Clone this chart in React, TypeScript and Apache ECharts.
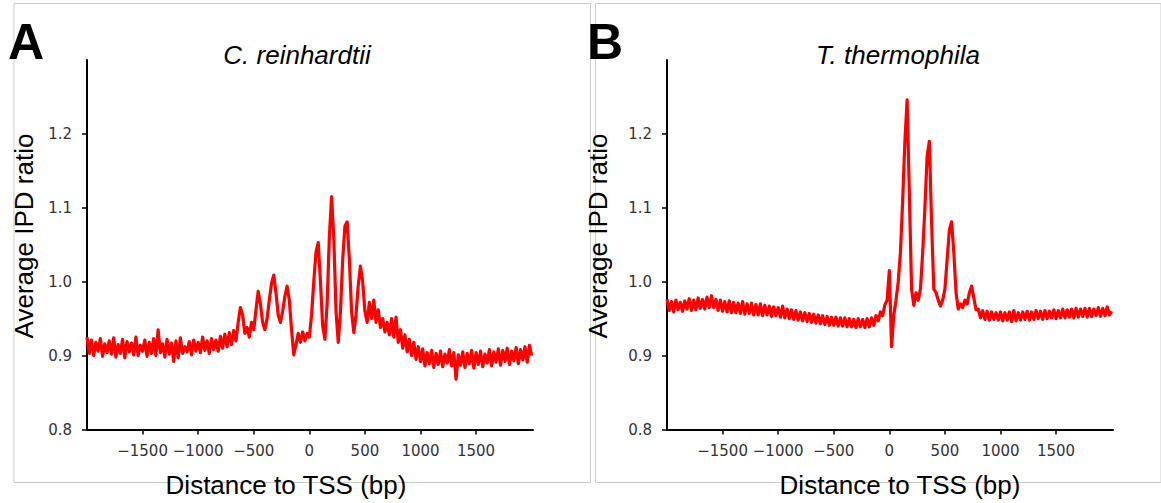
import React, { useEffect, useRef } from "react";
import * as echarts from "echarts";

// Distance to TSS (bp), sampled every 20 bp
const DISTANCE = Array.from({ length: 201 }, (_, i) => -2000 + 20 * i);

const X_TICKS = [-1500, -1000, -500, 0, 500, 1000, 1500];
const Y_TICKS = [0.8, 0.9, 1.0, 1.1, 1.2];

const PANEL_LETTERS = ["A", "B"];
const PANEL_TITLES = ["C. reinhardtii", "T. thermophila"];
const X_TITLE = "Distance to TSS (bp)";
const Y_TITLE = "Average IPD ratio";

// C. reinhardtii average IPD ratio
const REINHARDTII = [
  0.925, 0.903, 0.921, 0.900, 0.918, 0.906, 0.923, 0.899, 0.916, 0.904,
  0.920, 0.902, 0.924, 0.898, 0.915, 0.903, 0.922, 0.897, 0.919, 0.905,
  0.917, 0.901, 0.925, 0.900, 0.914, 0.906, 0.921, 0.899, 0.918, 0.903,
  0.923, 0.900, 0.935, 0.904, 0.916, 0.898, 0.922, 0.902, 0.917, 0.892,
  0.920, 0.897, 0.924, 0.903, 0.912, 0.905, 0.919, 0.901, 0.921, 0.906,
  0.918, 0.904, 0.925, 0.907, 0.920, 0.903, 0.923, 0.908, 0.921, 0.906,
  0.926, 0.910, 0.929, 0.912, 0.931, 0.915, 0.934, 0.920, 0.945, 0.965,
  0.955, 0.930, 0.938, 0.925, 0.945, 0.935, 0.962, 0.987, 0.970, 0.945,
  0.935, 0.950, 0.975, 0.998, 1.009, 0.985, 0.955, 0.945, 0.960, 0.980,
  0.994, 0.975, 0.935, 0.901, 0.915, 0.930, 0.918, 0.932, 0.920, 0.930,
  0.925, 0.955, 1.000, 1.040, 1.053, 1.000, 0.940, 0.922, 0.970, 1.060,
  1.115, 1.060, 0.960, 0.918, 0.960, 1.030, 1.075, 1.081, 1.030, 0.960,
  0.931, 0.955, 0.995, 1.021, 1.000, 0.960, 0.945, 0.972, 0.950, 0.975,
  0.945, 0.962, 0.938, 0.950, 0.932, 0.945, 0.928, 0.950, 0.925, 0.952,
  0.918, 0.935, 0.910, 0.928, 0.905, 0.922, 0.900, 0.918, 0.895, 0.912,
  0.892, 0.909, 0.886, 0.904, 0.889, 0.907, 0.884, 0.903, 0.888, 0.906,
  0.885, 0.902, 0.890, 0.908, 0.886, 0.904, 0.868, 0.901, 0.887, 0.905,
  0.884, 0.903, 0.889, 0.907, 0.883, 0.904, 0.888, 0.906, 0.885, 0.902,
  0.890, 0.908, 0.886, 0.905, 0.891, 0.909, 0.887, 0.907, 0.892, 0.910,
  0.888, 0.906, 0.893, 0.911, 0.889, 0.908, 0.894, 0.912, 0.891, 0.914,
  0.900,
];

// T. thermophila average IPD ratio
const THERMOPHILA = [
  0.976, 0.961, 0.973, 0.959, 0.975, 0.962, 0.972, 0.960, 0.974, 0.963,
  0.977, 0.961, 0.975, 0.962, 0.978, 0.964, 0.976, 0.963, 0.979, 0.965,
  0.981, 0.965, 0.976, 0.961, 0.975, 0.960, 0.973, 0.959, 0.974, 0.958,
  0.972, 0.958, 0.971, 0.957, 0.973, 0.956, 0.970, 0.957, 0.971, 0.955,
  0.969, 0.955, 0.970, 0.954, 0.968, 0.955, 0.967, 0.953, 0.966, 0.954,
  0.965, 0.952, 0.967, 0.951, 0.963, 0.950, 0.962, 0.949, 0.961, 0.948,
  0.959, 0.947, 0.958, 0.946, 0.957, 0.945, 0.956, 0.944, 0.955, 0.943,
  0.954, 0.942, 0.953, 0.941, 0.952, 0.941, 0.952, 0.940, 0.951, 0.940,
  0.951, 0.939, 0.950, 0.939, 0.949, 0.938, 0.950, 0.939, 0.949, 0.938,
  0.950, 0.939, 0.951, 0.941, 0.954, 0.947, 0.959, 0.954, 0.969, 0.975,
  1.015, 0.912, 0.955, 0.975, 1.000, 1.040, 1.110, 1.190, 1.246, 1.120,
  0.990, 0.968, 0.985, 0.975, 0.990, 1.040, 1.100, 1.170, 1.190, 1.080,
  0.990, 0.985, 0.975, 0.967, 0.975, 0.990, 1.030, 1.070, 1.081, 1.040,
  0.985, 0.963, 0.970, 0.965, 0.975, 0.970, 0.985, 0.994, 0.978, 0.962,
  0.963, 0.951, 0.961, 0.949, 0.960, 0.948, 0.959, 0.949, 0.958, 0.948,
  0.959, 0.947, 0.958, 0.948, 0.959, 0.946, 0.961, 0.947, 0.958, 0.948,
  0.959, 0.949, 0.960, 0.948, 0.959, 0.949, 0.961, 0.950, 0.960, 0.949,
  0.961, 0.950, 0.960, 0.951, 0.962, 0.950, 0.961, 0.951, 0.963, 0.951,
  0.962, 0.952, 0.963, 0.951, 0.964, 0.952, 0.963, 0.953, 0.964, 0.952,
  0.964, 0.953, 0.963, 0.954, 0.965, 0.953, 0.964, 0.954, 0.966, 0.955,
  0.960,
];

const SERIES = [REINHARDTII, THERMOPHILA];

const SANS = "'Liberation Sans', Arial, Helvetica, sans-serif";
const TICK_FONT = "'DejaVu Sans', sans-serif";

export default function App() {
  const ref = useRef<HTMLDivElement>(null);

  useEffect(() => {
    if (!ref.current) return;
    const chart = echarts.init(ref.current, null, { renderer: "svg" });

    const lefts = [87, 667];
    const offsets = [0, 580];

    const grids = lefts.map((l) => ({ left: l, top: 60, width: 446, height: 369.5 }));

    const xAxes = lefts.map((_, i) => ({
      type: "value",
      gridIndex: i,
      min: -2000,
      max: 2012,
      splitLine: { show: false },
      axisLine: { show: true, onZero: false, lineStyle: { color: "#000", width: 2 } },
      axisTick: {
        show: true,
        length: 5,
        customValues: X_TICKS,
        lineStyle: { color: "#000", width: 1.5 },
      },
      axisLabel: {
        customValues: X_TICKS,
        margin: 14,
        color: "#333",
        fontFamily: TICK_FONT,
        fontSize: 15,
        formatter: (v: number) => (v < 0 ? "\u2212" + Math.abs(v) : String(v)),
      },
    }));

    const yAxes = lefts.map((_, i) => ({
      type: "value",
      gridIndex: i,
      min: 0.8,
      max: 1.3,
      splitLine: { show: false },
      axisLine: { show: true, onZero: false, lineStyle: { color: "#000", width: 2 } },
      axisTick: {
        show: true,
        length: 5,
        customValues: Y_TICKS,
        lineStyle: { color: "#000", width: 1.5 },
      },
      axisLabel: {
        customValues: Y_TICKS,
        margin: 15,
        color: "#333",
        fontFamily: TICK_FONT,
        fontSize: 15,
        formatter: (v: number) => v.toFixed(1),
      },
    }));

    const series = SERIES.map((vals, i) => ({
      type: "line",
      xAxisIndex: i,
      yAxisIndex: i,
      showSymbol: false,
      symbol: "none",
      data: DISTANCE.map((d, k) => [d, vals[k]]),
      lineStyle: { color: "#ff0000", width: 3.2, join: "round" },
      itemStyle: { color: "#ff0000" },
      clip: true,
    }));

    const border = { stroke: "#cccccc", lineWidth: 1 };
    const frames = [
      { x1: 14, x2: 590.5, y1: 3.5, y2: 482.5 },
      { x1: 595.5, x2: 1161, y1: 3.5, y2: 482.5 },
    ];
    const frameEls: any[] = [];
    frames.forEach((f) => {
      frameEls.push({ type: "line", shape: { x1: f.x1, y1: f.y1, x2: f.x2, y2: f.y1 }, style: border, silent: true });
      frameEls.push({ type: "line", shape: { x1: f.x1, y1: f.y2, x2: f.x2, y2: f.y2 }, style: border, silent: true });
      frameEls.push({ type: "line", shape: { x1: f.x1, y1: f.y1, x2: f.x1, y2: f.y2 }, style: border, silent: true });
      frameEls.push({ type: "line", shape: { x1: f.x2, y1: f.y1, x2: f.x2, y2: f.y2 }, style: border, silent: true });
    });

    const textEls: any[] = [];
    offsets.forEach((o, i) => {
      textEls.push({
        type: "text",
        x: 26 + o + (i === 1 ? -1 : 0),
        y: 42,
        style: {
          text: PANEL_LETTERS[i],
          font: `bold 50px ${SANS}`,
          fill: "#000",
          align: "center",
          verticalAlign: "middle",
        },
      });
      textEls.push({
        type: "text",
        x: [297, 898][i],
        y: 55,
        style: {
          text: PANEL_TITLES[i],
          font: `italic 26px ${SANS}`,
          fill: "#000",
          align: "center",
          verticalAlign: "middle",
        },
      });
      textEls.push({
        type: "text",
        x: [286, 900][i],
        y: 485,
        style: {
          text: X_TITLE,
          font: `26px ${SANS}`,
          fill: "#000",
          align: "center",
          verticalAlign: "middle",
        },
      });
      textEls.push({
        type: "text",
        x: [24, 598][i],
        y: 236,
        rotation: Math.PI / 2,
        style: {
          text: Y_TITLE,
          font: `26px ${SANS}`,
          fill: "#000",
          align: "center",
          verticalAlign: "middle",
        },
      });
    });

    chart.setOption({
      animation: false,
      backgroundColor: "#fff",
      grid: grids,
      xAxis: xAxes,
      yAxis: yAxes,
      series,
      graphic: [...frameEls, ...textEls],
    });

    return () => chart.dispose();
  }, []);

  return (
    <div
      ref={ref}
      style={{ position: "fixed", left: 0, top: 0, width: 1161, height: 503 }}
    />
  );
}
